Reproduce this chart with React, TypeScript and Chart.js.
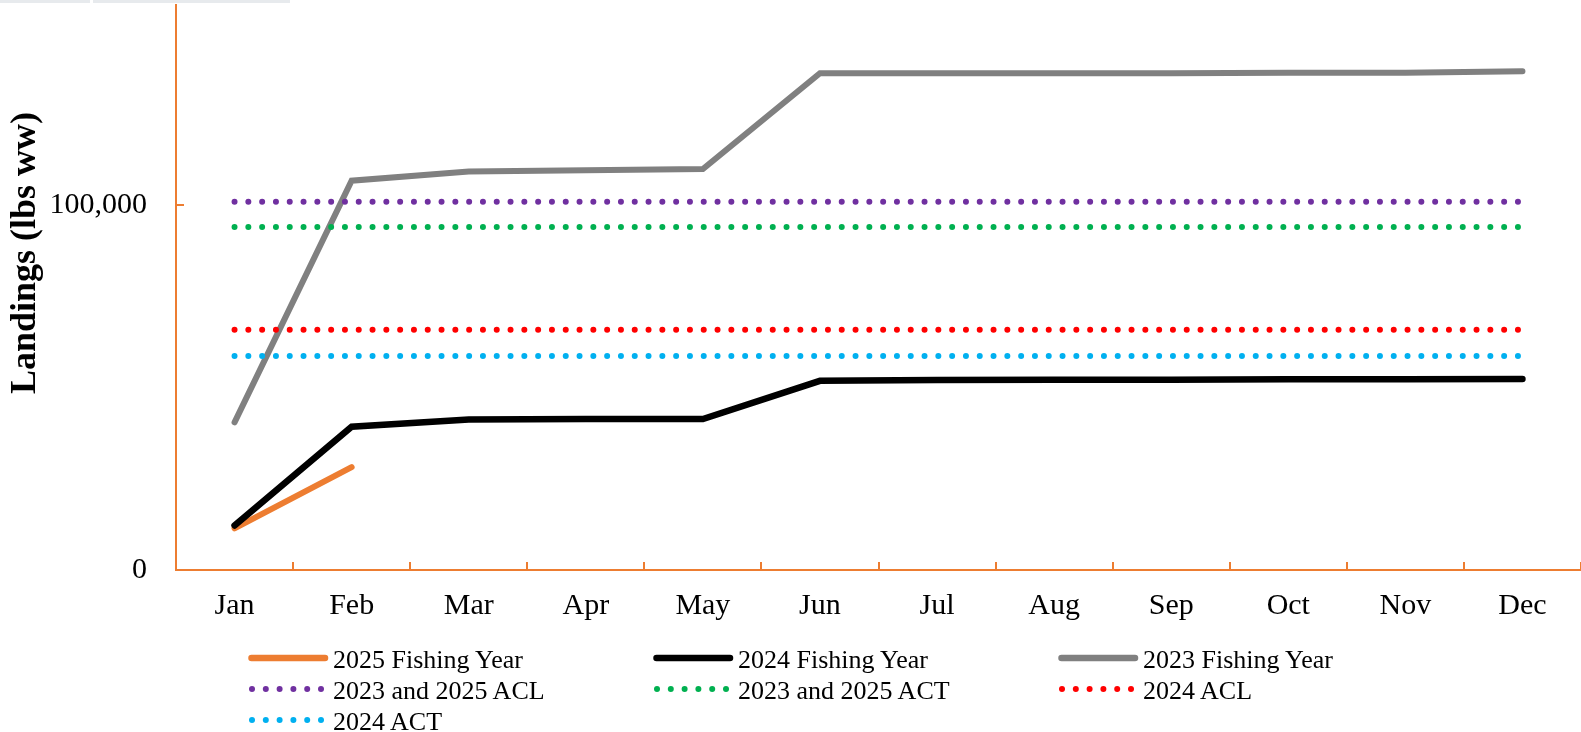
import React, { useEffect, useRef } from "react";
import { Chart, registerables } from "chart.js";

Chart.register(...registerables);

const months = ["Jan", "Feb", "Mar", "Apr", "May", "Jun", "Jul", "Aug", "Sep", "Oct", "Nov", "Dec"];
const fy2025: (number | null)[] = [11400, 28200, null, null, null, null, null, null, null, null, null, null];
const fy2024 = [12200, 39300, 41300, 41400, 41400, 51900, 52100, 52200, 52200, 52300, 52300, 52400];
const fy2023 = [40500, 106800, 109300, 109700, 110000, 136300, 136300, 136300, 136300, 136400, 136400, 136800];
const acl2325 = 101000;
const act2325 = 94100;
const acl2024 = 65900;
const act2024 = 58700;
const yTickValues = [0, 100000];
const yMax = 155000;
const yTitle = "Landings (lbs ww)";

const ORANGE = "#ED7D31";
const BLACK = "#000000";
const GRAY = "#808080";
const PURPLE = "#7030A0";
const GREEN = "#00B050";
const RED = "#FF0000";
const CYAN = "#00B0F0";
const AXIS = "#ED7D31";
const FONT = "'Liberation Serif', 'Times New Roman', serif";

const legendItems = [
  { label: "2025 Fishing Year", color: ORANGE, dotted: false },
  { label: "2024 Fishing Year", color: BLACK, dotted: false },
  { label: "2023 Fishing Year", color: GRAY, dotted: false },
  { label: "2023 and 2025 ACL", color: PURPLE, dotted: true },
  { label: "2023 and 2025 ACT", color: GREEN, dotted: true },
  { label: "2024 ACL", color: RED, dotted: true },
  { label: "2024 ACT", color: CYAN, dotted: true },
];

const legendCols = [248, 653, 1058];
const legendRows = [658, 689, 720];

const decorPlugin = {
  id: "decor",
  afterDraw(chart: any) {
    const { ctx, chartArea } = chart;
    const x = chart.scales.x;
    const y = chart.scales.y;
    ctx.save();
    ctx.strokeStyle = AXIS;
    ctx.lineWidth = 2;
    for (let i = 0; i <= months.length; i++) {
      const px = Math.round(x.getPixelForValue(i - 0.5));
      ctx.beginPath();
      ctx.moveTo(px, chartArea.bottom);
      ctx.lineTo(px, chartArea.bottom - 8);
      ctx.stroke();
    }
    for (const v of yTickValues) {
      const py = Math.round(y.getPixelForValue(v));
      ctx.beginPath();
      ctx.moveTo(chartArea.left, py);
      ctx.lineTo(chartArea.left + 8, py);
      ctx.stroke();
    }
    ctx.translate(26, 253);
    ctx.rotate(-Math.PI / 2);
    ctx.fillStyle = "#000";
    ctx.font = `bold 36px ${FONT}`;
    ctx.textAlign = "center";
    ctx.textBaseline = "middle";
    ctx.fillText(yTitle, 0, 0);
    ctx.restore();
  },
};

function solid(label: string, data: (number | null)[], color: string, width: number, order: number) {
  return {
    label,
    data,
    borderColor: color,
    backgroundColor: color,
    borderWidth: width,
    pointRadius: 0,
    tension: 0,
    borderCapStyle: "round" as const,
    borderJoinStyle: "miter" as const,
    fill: false,
    order,
  };
}

function dotted(label: string, value: number, color: string) {
  return {
    label,
    data: months.map(() => value),
    borderColor: color,
    backgroundColor: color,
    borderWidth: 6,
    pointRadius: 0,
    borderDash: [0, 13.8],
    borderCapStyle: "round" as const,
    fill: false,
    order: 0,
  };
}

function LegendMark({ color, dotted: isDotted }: { color: string; dotted: boolean }) {
  return (
    <svg width={82} height={12} style={{ display: "block" }}>
      {isDotted ? (
        [0, 1, 2, 3, 4, 5].map((i) => <circle key={i} cx={4 + i * 13.8} cy={6} r={3} fill={color} />)
      ) : (
        <line x1={3.5} y1={6} x2={77} y2={6} stroke={color} strokeWidth={6.5} strokeLinecap="round" />
      )}
    </svg>
  );
}

export default function App() {
  const canvasRef = useRef<HTMLCanvasElement | null>(null);

  useEffect(() => {
    if (!canvasRef.current) return;
    const chart = new Chart(canvasRef.current, {
      type: "line",
      data: {
        labels: months,
        datasets: [
          solid("2025 Fishing Year", fy2025, ORANGE, 6, 2),
          solid("2024 Fishing Year", fy2024, BLACK, 6.5, 1),
          solid("2023 Fishing Year", fy2023, GRAY, 6, 3),
          dotted("2023 and 2025 ACL", acl2325, PURPLE),
          dotted("2023 and 2025 ACT", act2325, GREEN),
          dotted("2024 ACL", acl2024, RED),
          dotted("2024 ACT", act2024, CYAN),
        ] as any,
      },
      options: {
        animation: false,
        responsive: true,
        maintainAspectRatio: false,
        layout: { padding: { top: 5, left: 0, right: 0, bottom: 0 } },
        plugins: { legend: { display: false }, tooltip: { enabled: false } },
        scales: {
          x: {
            type: "category",
            offset: true,
            grid: { display: false, drawTicks: false, offset: true },
            border: { display: true, color: AXIS, width: 2 },
            ticks: {
              color: "#000",
              font: { family: FONT, size: 30 },
              padding: 18,
              maxRotation: 0,
              autoSkip: false,
            },
            afterFit(scale: any) {
              scale.height = 162;
              scale.paddingLeft = 0;
              scale.paddingRight = 0;
              scale.paddingTop = 0;
              scale.paddingBottom = 0;
            },
          },
          y: {
            min: 0,
            max: yMax,
            grid: { display: false, drawTicks: false },
            border: { display: true, color: AXIS, width: 2 },
            ticks: {
              color: "#000",
              font: { family: FONT, size: 30 },
              padding: 29,
              callback: (v: any) => Number(v).toLocaleString("en-US"),
            },
            afterBuildTicks(scale: any) {
              scale.ticks = yTickValues.map((v) => ({ value: v }));
            },
            afterFit(scale: any) {
              scale.width = 176;
              scale.paddingLeft = 0;
              scale.paddingRight = 0;
              scale.paddingTop = 0;
              scale.paddingBottom = 0;
            },
          },
        },
      },
      plugins: [decorPlugin],
    });
    return () => chart.destroy();
  }, []);

  return (
    <div style={{ position: "absolute", left: 0, top: 0, width: 1581, height: 732, background: "#fff", overflow: "hidden" }}>
      <div style={{ position: "absolute", left: 0, top: 0, width: 90, height: 3, background: "#e7eaed" }} />
      <div style={{ position: "absolute", left: 93, top: 0, width: 197, height: 3, background: "#e7eaed" }} />
      <canvas ref={canvasRef} style={{ position: "absolute", left: 0, top: 0, width: 1581, height: 732 }} />
      {legendItems.map((item, idx) => {
        const col = idx % 3;
        const row = Math.floor(idx / 3);
        return (
          <div
            key={item.label}
            style={{
              position: "absolute",
              left: legendCols[col],
              top: legendRows[row] - 15,
              height: 30,
              display: "flex",
              alignItems: "center",
              whiteSpace: "nowrap",
            }}
          >
            <LegendMark color={item.color} dotted={item.dotted} />
            <span
              style={{
                fontFamily: FONT,
                fontSize: 26,
                lineHeight: "26px",
                color: "#000",
                marginLeft: 3,
                position: "relative",
                top: 2,
              }}
            >
              {item.label}
            </span>
          </div>
        );
      })}
    </div>
  );
}
